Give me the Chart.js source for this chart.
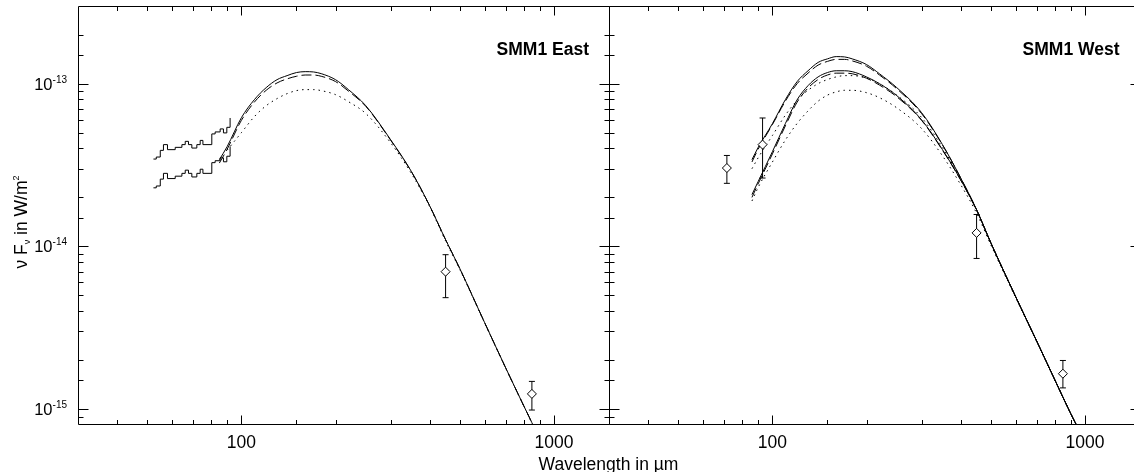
<!DOCTYPE html>
<html>
<head>
<meta charset="utf-8">
<script src="https://cdn.jsdelivr.net/npm/chart.js@4.4.0/dist/chart.umd.min.js"></script>
<style>
  html, body { margin: 0; padding: 0; background: #fff; overflow: hidden; }
  #wrap { position: relative; width: 1150px; height: 472px; }
  #wrap canvas { position: absolute; left: 0; top: 0; }
</style>
</head>
<body>
<div id="wrap">
  <canvas id="eastCanvas" width="1150" height="472"></canvas>
  <canvas id="westCanvas" width="1150" height="472"></canvas>
</div>
<script>
// wavelengths in micron, fluxes (nu F_nu) in W/m^2

// SMM1 East: two binned spectra (step curves)
const eastSpecWave = [52.3, 53.4, 55.0, 56.3, 58.0, 61.4, 64.5, 66.1, 67.7, 69.4, 72.0, 73.8, 75.3, 80.4, 82.4, 85.5, 87.6, 89.8, 92.0];
const eastSpecHigh = [3.44e-14, 3.54e-14, 3.89e-14, 4.22e-14, 3.93e-14, 4.06e-14, 4.22e-14, 4.42e-14, 4.22e-14, 4.02e-14, 4.22e-14, 4.48e-14, 4.22e-14, 4.91e-14, 5.05e-14, 5.27e-14, 4.98e-14, 5.39e-14, 6.15e-14];
const eastSpecLow = [2.29e-14, 2.35e-14, 2.59e-14, 2.81e-14, 2.61e-14, 2.70e-14, 2.81e-14, 2.94e-14, 2.81e-14, 2.67e-14, 2.81e-14, 2.98e-14, 2.81e-14, 3.27e-14, 3.36e-14, 3.50e-14, 3.31e-14, 3.58e-14, 4.12e-14];

// SMM1 East: model curves
const eastModelWave = [85, 90, 100, 110, 120, 130, 140, 150, 160, 170, 180, 200, 220, 250, 300, 350, 400, 450, 500, 600, 700, 800, 850, 900];
const eastSolid  = [3.41e-14, 4.10e-14, 6.18e-14, 7.97e-14, 9.45e-14, 1.058e-13, 1.12e-13, 1.17e-13, 1.185e-13, 1.18e-13, 1.152e-13, 1.058e-13, 9.19e-14, 7.32e-14, 4.53e-14, 2.88e-14, 1.78e-14, 1.10e-14, 7.29e-15, 3.40e-15, 1.80e-15, 1.05e-15, 8.25e-16, 6.48e-16];
const eastDashed = [3.25e-14, 3.95e-14, 5.95e-14, 7.70e-14, 9.10e-14, 1.01e-13, 1.07e-13, 1.11e-13, 1.13e-13, 1.13e-13, 1.11e-13, 1.03e-13, 9.00e-14, 7.25e-14, 4.50e-14, 2.87e-14, 1.78e-14, 1.10e-14, 7.29e-15, 3.40e-15, 1.80e-15, 1.05e-15, 8.25e-16, 6.48e-16];
const eastDotted = [null, 3.90e-14, 5.00e-14, 6.27e-14, 7.32e-14, 8.09e-14, 8.68e-14, 9.06e-14, 9.19e-14, 9.19e-14, 9.06e-14, 8.56e-14, 7.75e-14, 6.55e-14, 4.34e-14, 2.80e-14, 1.76e-14, 1.08e-14, 7.20e-15, 3.38e-15, 1.79e-15, 1.05e-15, 8.20e-16, 6.45e-16];

// SMM1 East: photometry with error bars
const eastPhotWave = [450, 850];
const eastPhotFlux = [6.99e-15, 1.24e-15];
const eastPhotLow  = [4.84e-15, 9.87e-16];
const eastPhotHigh = [8.89e-15, 1.48e-15];

// SMM1 West: two sets of model curves
const westModelWave = [86, 90, 100, 110, 120, 130, 140, 150, 160, 170, 180, 200, 220, 250, 300, 350, 400, 450, 500, 600, 700, 800, 900, 1000];
const westSolidA  = [3.41e-14, 4.05e-14, 5.68e-14, 7.97e-14, 1.03e-13, 1.20e-13, 1.35e-13, 1.42e-13, 1.466e-13, 1.46e-13, 1.42e-13, 1.31e-13, 1.15e-13, 9.45e-14, 6.64e-14, 4.22e-14, 2.64e-14, 1.68e-14, 1.05e-14, 4.91e-15, 2.63e-15, 1.52e-15, 9.4e-16, 6.3e-16];
const westDashedA = [3.30e-14, 3.95e-14, 5.60e-14, 7.80e-14, 1.00e-13, 1.16e-13, 1.30e-13, 1.37e-13, 1.41e-13, 1.41e-13, 1.38e-13, 1.28e-13, 1.13e-13, 9.30e-14, 6.55e-14, 4.20e-14, 2.64e-14, 1.68e-14, 1.05e-14, 4.91e-15, 2.63e-15, 1.52e-15, 9.4e-16, 6.3e-16];
const westDottedA = [3.00e-14, 3.50e-14, 4.80e-14, 6.40e-14, 7.90e-14, 9.10e-14, 1.00e-13, 1.06e-13, 1.10e-13, 1.12e-13, 1.12e-13, 1.08e-13, 1.00e-13, 8.50e-14, 6.20e-14, 4.05e-14, 2.60e-14, 1.66e-14, 1.04e-14, 4.90e-15, 2.62e-15, 1.52e-15, 9.4e-16, 6.3e-16];
const westSolidB  = [2.08e-14, 2.50e-14, 3.82e-14, 5.68e-14, 7.97e-14, 9.72e-14, 1.10e-13, 1.17e-13, 1.20e-13, 1.20e-13, 1.185e-13, 1.10e-13, 1.00e-13, 8.44e-14, 6.00e-14, 3.93e-14, 2.57e-14, 1.68e-14, 1.05e-14, 4.91e-15, 2.63e-15, 1.52e-15, 9.4e-16, 6.3e-16];
const westDashedB = [2.00e-14, 2.42e-14, 3.70e-14, 5.50e-14, 7.70e-14, 9.40e-14, 1.06e-13, 1.13e-13, 1.16e-13, 1.16e-13, 1.15e-13, 1.08e-13, 9.80e-14, 8.30e-14, 5.95e-14, 3.90e-14, 2.56e-14, 1.67e-14, 1.05e-14, 4.91e-15, 2.63e-15, 1.52e-15, 9.4e-16, 6.3e-16];
const westDottedB = [1.90e-14, 2.30e-14, 3.30e-14, 4.50e-14, 5.70e-14, 6.80e-14, 7.80e-14, 8.50e-14, 8.90e-14, 9.10e-14, 9.10e-14, 8.80e-14, 8.20e-14, 7.10e-14, 5.30e-14, 3.60e-14, 2.40e-14, 1.60e-14, 1.02e-14, 4.85e-15, 2.61e-15, 1.51e-15, 9.4e-16, 6.3e-16];

// SMM1 West: photometry with error bars
const westPhotWave = [71.5, 93, 450, 850];
const westPhotFlux = [3.03e-14, 4.22e-14, 1.21e-14, 1.65e-15];
const westPhotLow  = [2.44e-14, 2.63e-14, 8.43e-15, 1.35e-15];
const westPhotHigh = [3.62e-14, 6.15e-14, 1.57e-14, 1.99e-15];

// axis ranges and tick labels
const waveRange = [30, 1500];
const fluxRange = [8.1e-16, 3.0e-13];
const waveTickLabels = ['100', '1000'];

const FONT = "'Liberation Sans', Arial, Helvetica, sans-serif";

function isDecade(v) {
  const l = Math.log10(v);
  return Math.abs(l - Math.round(l)) < 1e-6;
}

function toPoints(xs, ys) {
  const pts = [];
  xs.forEach((x, i) => { if (ys[i] != null) pts.push({x: x, y: ys[i]}); });
  return pts;
}

function curve(xs, ys, dash) {
  return {
    data: toPoints(xs, ys), showLine: true, pointRadius: 0, borderColor: '#000',
    borderWidth: 1, borderDash: dash, cubicInterpolationMode: 'monotone', order: 2
  };
}

function stepCurve(xs, ys) {
  return {
    data: toPoints(xs, ys), showLine: true, pointRadius: 0, borderColor: '#000',
    borderWidth: 1, stepped: true, order: 2
  };
}

function photometry(xs, ys, lo, hi) {
  const sets = [];
  sets.push({
    data: toPoints(xs, ys), pointStyle: 'rectRot', pointRadius: 4.5,
    pointBackgroundColor: '#fff', pointBorderColor: '#000', pointBorderWidth: 1, order: 0
  });
  xs.forEach((x, i) => {
    sets.push({
      data: [{x: x, y: lo[i]}, {x: x, y: hi[i]}], showLine: true, borderColor: '#000', borderWidth: 1,
      pointStyle: 'line', pointRadius: 3, pointBorderColor: '#000', pointBorderWidth: 1, order: 1
    });
  });
  return sets;
}

// frame, inward ticks and hand-placed text
const framePlugin = {
  id: 'frame',
  afterDraw(chart, args, opts) {
    const {ctx, chartArea: a, scales} = chart;
    const x = scales.x, y = scales.y;
    const L = Math.round(a.left) + 0.5, R = Math.round(a.right) + 0.5;
    const T = Math.round(a.top) + 0.5, B = Math.round(a.bottom) + 0.5;
    ctx.save();
    ctx.strokeStyle = '#000';
    ctx.lineWidth = 1;
    ctx.beginPath();
    ctx.moveTo(L, T); ctx.lineTo(R, T); ctx.lineTo(R, B); ctx.lineTo(L, B); ctx.closePath();
    x.ticks.forEach(t => {
      if (t.value <= x.min * 1.001 || t.value >= x.max * 0.999) return;
      const px = Math.round(x.getPixelForValue(t.value)) + 0.5;
      const len = isDecade(t.value) ? 9 : 4.5;
      ctx.moveTo(px, B); ctx.lineTo(px, B - len);
      ctx.moveTo(px, T); ctx.lineTo(px, T + len);
    });
    y.ticks.forEach(t => {
      if (t.value <= y.min * 1.001 || t.value >= y.max * 0.999) return;
      const py = Math.round(y.getPixelForValue(t.value)) + 0.5;
      const len = isDecade(t.value) ? 10 : 5;
      ctx.moveTo(L, py); ctx.lineTo(L + len, py);
      ctx.moveTo(R, py); ctx.lineTo(R - len, py);
    });
    ctx.stroke();

    ctx.fillStyle = '#000';
    // panel name
    ctx.font = 'bold 17.5px ' + FONT;
    ctx.textAlign = 'right';
    ctx.textBaseline = 'alphabetic';
    ctx.fillText(opts.label, opts.labelX, 55);

    if (opts.axisText) {
      // y tick labels with exponents
      y.ticks.forEach(t => {
        if (!isDecade(t.value)) return;
        const py = y.getPixelForValue(t.value);
        const exp = String(Math.round(Math.log10(t.value)));
        ctx.font = '10px ' + FONT;
        const ew = ctx.measureText(exp).width;
        ctx.textAlign = 'right';
        ctx.fillText(exp, 67, py - 1);
        ctx.font = '16.5px ' + FONT;
        ctx.fillText('10', 67 - ew, py + 6);
      });

      // y title: nu F_nu in W/m^2
      const big = '17.5px ' + FONT, small = '9px ' + FONT;
      const parts = [['\u03BD F', big, 0], ['\u03BD', small, 3], [' in W/m', big, 0], ['2', small, -8]];
      let total = 0;
      parts.forEach(p => { ctx.font = p[1]; total += ctx.measureText(p[0]).width; });
      ctx.translate(27, 222);
      ctx.rotate(-Math.PI / 2);
      ctx.textAlign = 'left';
      let cx = -total / 2;
      parts.forEach(p => {
        ctx.font = p[1];
        ctx.fillText(p[0], cx, p[2]);
        cx += ctx.measureText(p[0]).width;
      });
      ctx.setTransform(1, 0, 0, 1, 0, 0);

      // x title across both panels
      ctx.font = '17.5px ' + FONT;
      ctx.textAlign = 'center';
      ctx.fillText('Wavelength in \u00B5m', 608.5, 470);
    }
    ctx.restore();
  }
};

function panelOptions(area, frameOpts) {
  return {
    responsive: false,
    animation: false,
    devicePixelRatio: 1,
    layout: { padding: { left: area.left, right: 1150 - area.right, top: area.top, bottom: 0 } },
    plugins: { legend: { display: false }, tooltip: { enabled: false }, frame: frameOpts },
    scales: {
      x: {
        type: 'logarithmic', min: waveRange[0], max: waveRange[1],
        afterFit: s => { s.height = 472 - area.bottom; },
        grid: { display: false }, border: { display: false },
        ticks: {
          autoSkip: false, maxRotation: 0, padding: 1, color: '#000',
          font: { family: FONT, size: 17.5 },
          callback: v => waveTickLabels.includes(String(v)) ? String(v) : ''
        }
      },
      y: {
        type: 'logarithmic', min: fluxRange[0], max: fluxRange[1],
        afterFit: s => { s.width = 0; },
        grid: { display: false }, border: { display: false },
        ticks: { display: false, autoSkip: false }
      }
    }
  };
}

const eastChart = new Chart(document.getElementById('eastCanvas'), {
  type: 'scatter',
  data: {
    datasets: [
      ...photometry(eastPhotWave, eastPhotFlux, eastPhotLow, eastPhotHigh),
      stepCurve(eastSpecWave, eastSpecHigh),
      stepCurve(eastSpecWave, eastSpecLow),
      curve(eastModelWave, eastSolid, []),
      curve(eastModelWave, eastDashed, [10, 4]),
      curve(eastModelWave, eastDotted, [1.5, 4])
    ]
  },
  options: panelOptions({left: 78, right: 609, top: 6, bottom: 424}, {label: 'SMM1 East', labelX: 589, axisText: true}),
  plugins: [framePlugin]
});

const westChart = new Chart(document.getElementById('westCanvas'), {
  type: 'scatter',
  data: {
    datasets: [
      ...photometry(westPhotWave, westPhotFlux, westPhotLow, westPhotHigh),
      curve(westModelWave, westSolidA, []),
      curve(westModelWave, westDashedA, [10, 4]),
      curve(westModelWave, westDottedA, [1.5, 4]),
      curve(westModelWave, westSolidB, []),
      curve(westModelWave, westDashedB, [10, 4]),
      curve(westModelWave, westDottedB, [1.5, 4])
    ]
  },
  options: panelOptions({left: 609, right: 1140, top: 6, bottom: 424}, {label: 'SMM1 West', labelX: 1119.5, axisText: false}),
  plugins: [framePlugin]
});
</script>
</body>
</html>
